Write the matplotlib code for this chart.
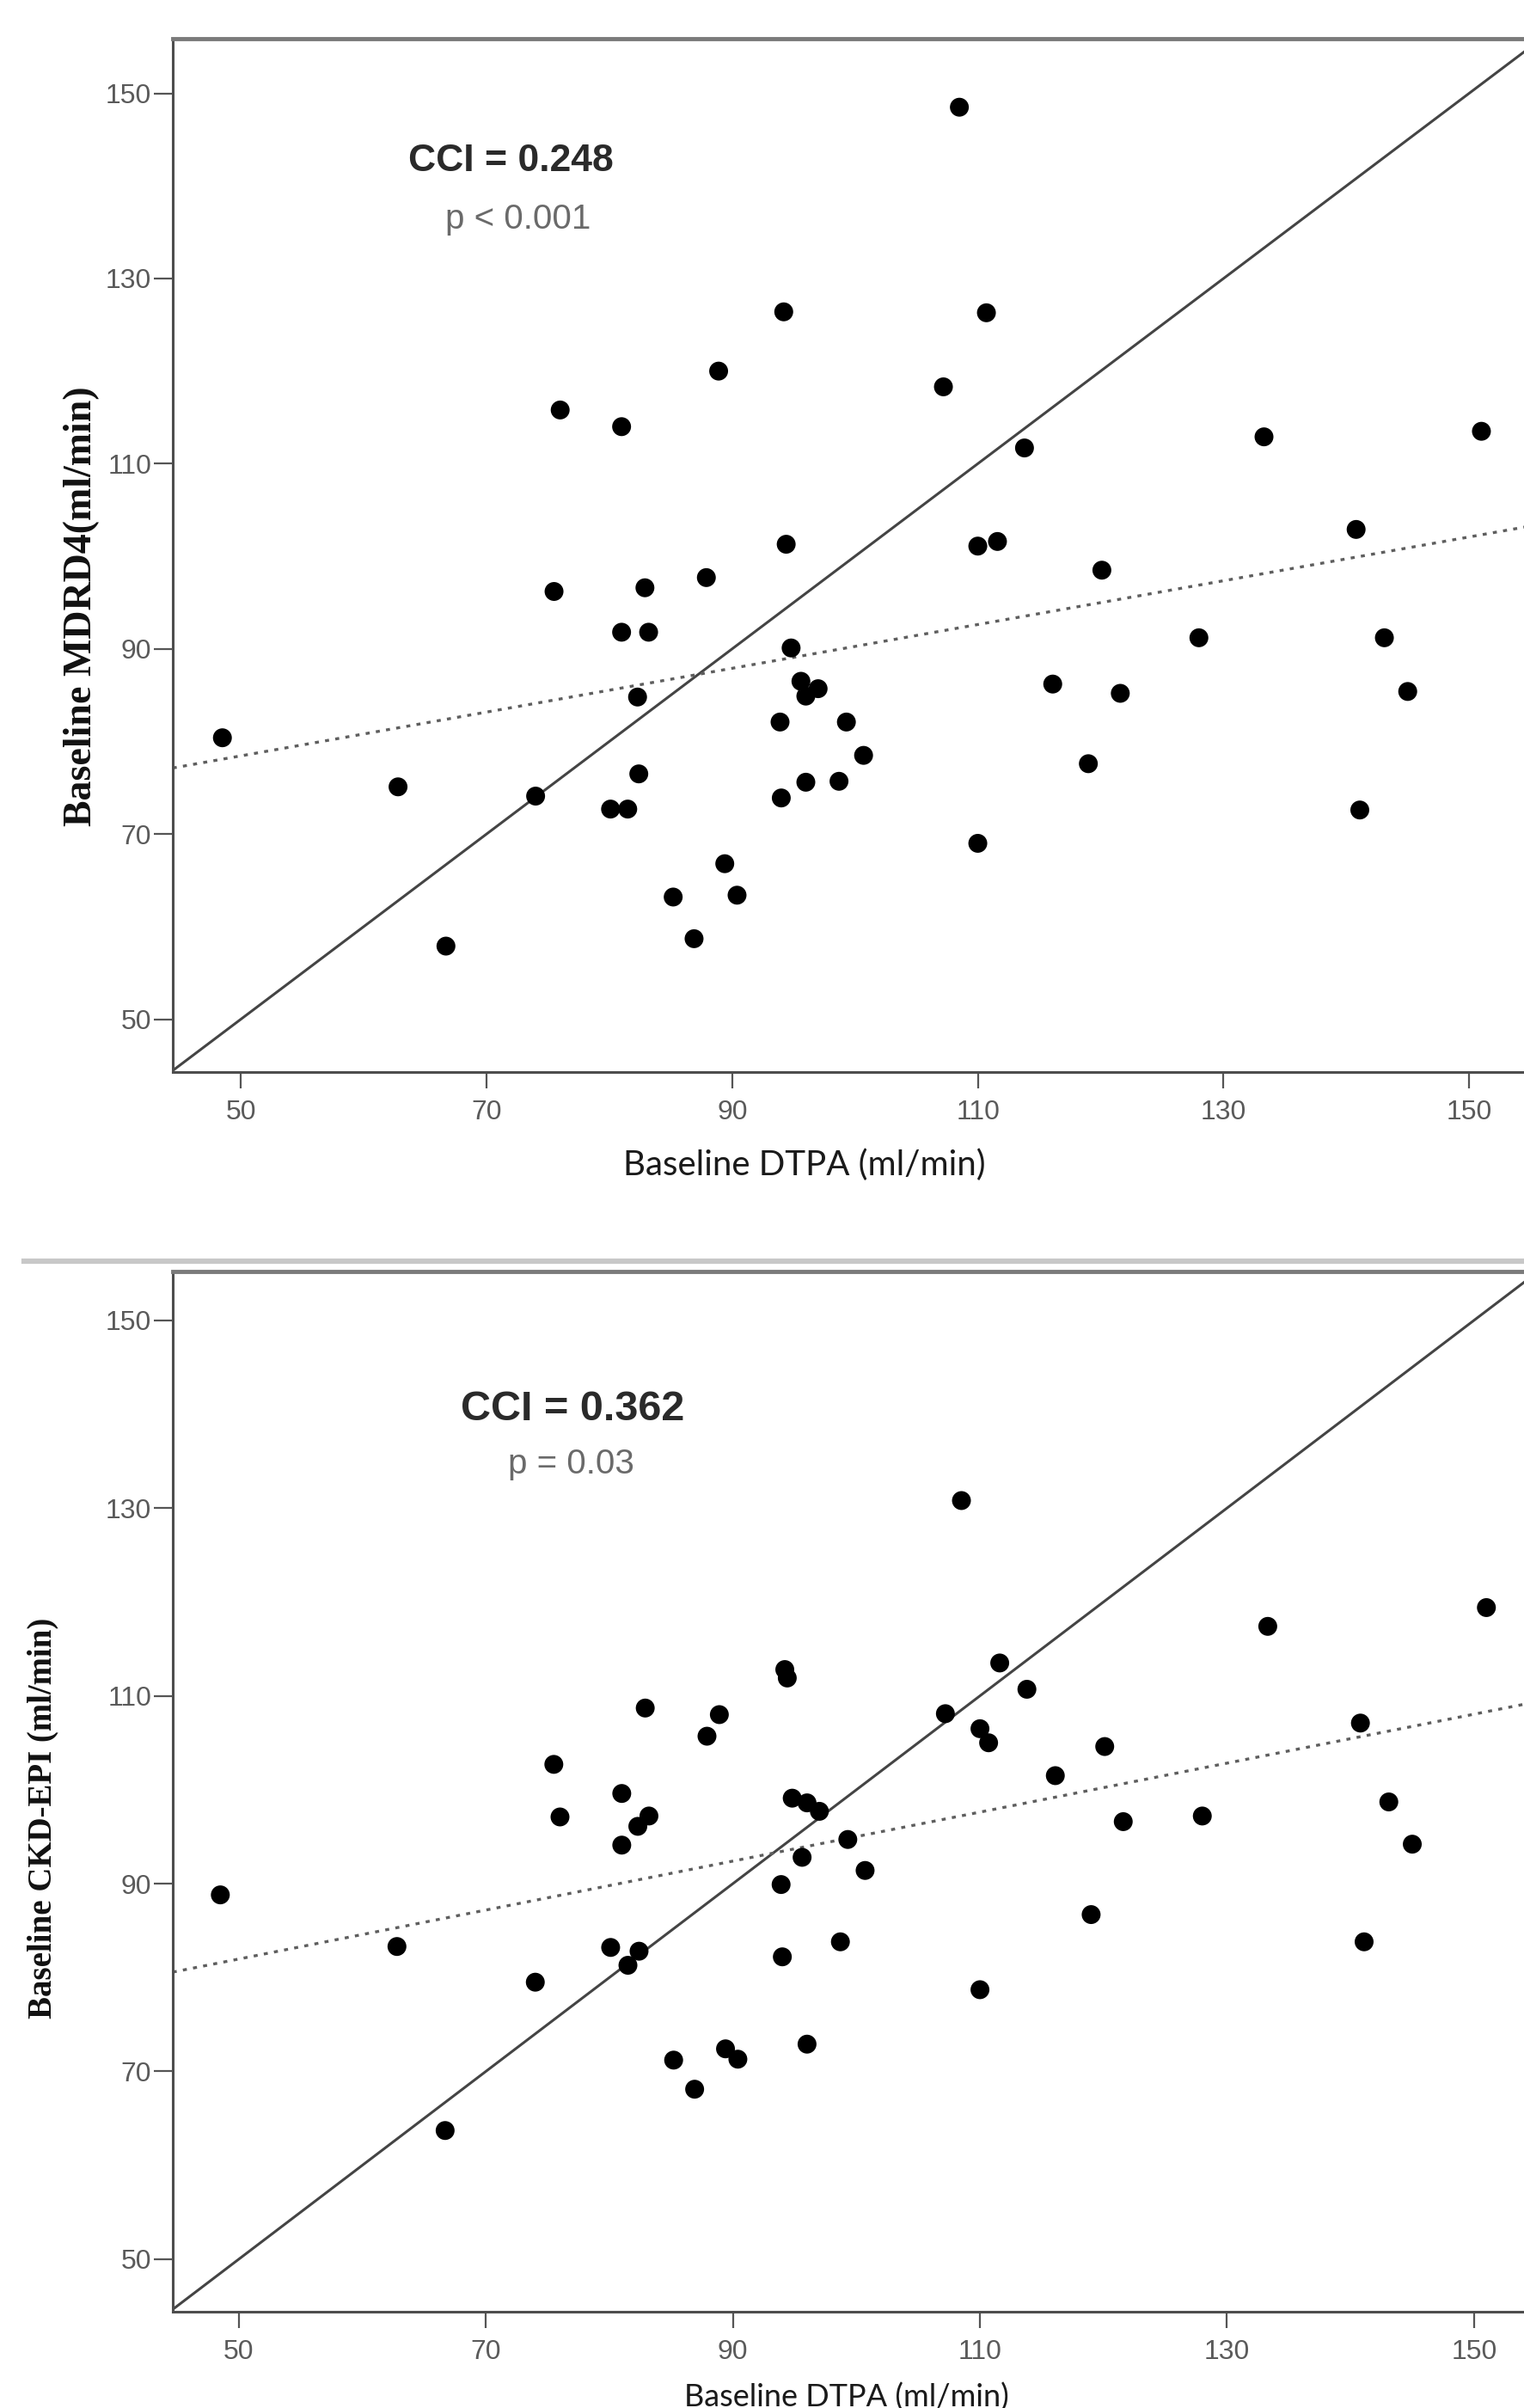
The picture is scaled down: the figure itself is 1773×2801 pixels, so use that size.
import numpy as np
import matplotlib
matplotlib.use("Agg")
import matplotlib.pyplot as plt
from matplotlib import font_manager as fm

# Baseline DTPA GFR (ml/min), shared by both panels
dtpa = [48.5, 62.8, 66.7, 74.0, 75.5, 76.0, 80.1, 81.0, 81.0, 81.5,
        82.3, 82.4, 82.9, 83.2, 85.2, 86.9, 87.9, 88.9, 89.4, 90.4,
        94.0, 93.9, 94.2, 94.4, 94.8, 95.6, 96.0, 96.0, 97.0, 98.7,
        99.3, 100.7, 107.2, 108.5, 110.0, 110.0, 110.7, 111.6, 113.8, 116.1,
        119.0, 120.1, 121.6, 128.0, 133.3, 140.8, 141.1, 143.1, 145.0, 151.0]

# Baseline MDRD4 estimate (ml/min)
mdrd4 = [80.4, 75.1, 57.9, 74.1, 96.2, 115.8, 72.7, 91.8, 114.0, 72.7,
         84.8, 76.5, 96.6, 91.8, 63.2, 58.7, 97.7, 120.0, 66.8, 63.4,
         73.9, 82.1, 126.4, 101.3, 90.1, 86.5, 84.9, 75.6, 85.7, 75.7,
         82.1, 78.5, 118.3, 148.5, 69.0, 101.1, 126.3, 101.6, 111.7, 86.2,
         77.6, 98.5, 85.2, 91.2, 112.9, 102.9, 72.6, 91.2, 85.4, 113.5]

# Baseline CKD-EPI estimate (ml/min)
ckd_epi = [88.8, 83.3, 63.7, 79.5, 102.7, 97.1, 83.2, 94.1, 99.6, 81.3,
           96.1, 82.8, 108.7, 97.2, 71.2, 68.1, 105.7, 108.0, 72.4, 71.3,
           82.2, 89.9, 112.8, 111.9, 99.1, 92.8, 98.6, 72.9, 97.7, 83.8,
           94.7, 91.4, 108.1, 130.8, 78.7, 106.5, 105.0, 113.5, 110.7, 101.5,
           86.7, 104.6, 96.6, 97.2, 117.4, 107.1, 83.8, 98.7, 94.2, 119.4]

tick_values = [50, 70, 90, 110, 130, 150]
panels = [
    {"y": mdrd4, "ylabel": "Baseline MDRD4(ml/min)", "cci": "CCI = 0.248", "p": "p < 0.001"},
    {"y": ckd_epi, "ylabel": "Baseline CKD-EPI (ml/min)", "cci": "CCI = 0.362", "p": "p = 0.03"},
]


def pick_font(*names):
    """Return the first installed family out of names"""
    avail = {f.name for f in fm.fontManager.ttflist}
    for n in names:
        if n in avail:
            return n
    return "DejaVu Sans"


tick_font = pick_font("Liberation Sans Narrow", "Liberation Sans")
ann_font = pick_font("Liberation Sans Narrow", "Liberation Sans")
xlab_font = pick_font("Lato", "Open Sans", "DejaVu Sans")
ylab_font = pick_font("Liberation Serif", "DejaVu Serif")

W, H = 1773, 2801
fig = plt.figure(figsize=(W / 100, H / 100), dpi=100)

# axes boxes in pixels: left, top, bottom, x/y limits
boxes = [
    {"left": 201, "top": 45, "bottom": 1247, "xlim": (44.46, 155.9), "ylim": (44.3, 155.9)},
    {"left": 201, "top": 1479, "bottom": 2689, "xlim": (44.65, 155.5), "ylim": (44.4, 155.2)},
]
px_per_x = [14.29, 14.37]

# text placement (figure pixels / data units)
ylabel_pos = [(95, 705, 33), (50, 2115, 28)]
xlabel_pos = [(936, 1367, 29), (985, 2800, 26)]
cci_pos = [(72.0, 141.6, 32), (77.0, 139.4, 35)]
p_pos = [(72.6, 135.4, 29), (76.9, 133.7, 29)]

for i, (panel, box) in enumerate(zip(panels, boxes)):
    x0, x1 = box["xlim"]
    width_px = (x1 - x0) * px_per_x[i]
    ax = fig.add_axes([box["left"] / W, 1 - box["bottom"] / H,
                       width_px / W, (box["bottom"] - box["top"]) / H])
    ax.set_xlim(*box["xlim"])
    ax.set_ylim(*box["ylim"])

    x = np.array(dtpa)
    y = np.array(panel["y"])

    # line of identity
    lo, hi = min(x0, box["ylim"][0]), max(x1, box["ylim"][1])
    ax.plot([lo, hi], [lo, hi], color="#444444", lw=2.2, zorder=2)

    # least squares fit
    slope, intercept = np.polyfit(x, y, 1)
    xs = np.array([x0, x1])
    ax.plot(xs, intercept + slope * xs, color="#5e5e5e", lw=2.4,
            linestyle=(0, (1.4, 2.2)), zorder=2)

    ax.scatter(x, y, s=250, color="black", edgecolors="none", zorder=3)

    for side in ["left", "bottom", "top", "right"]:
        ax.spines[side].set_color("#4d4d4d")
        ax.spines[side].set_linewidth(2.2)
    ax.spines["top"].set_color("#7a7a7a")
    ax.spines["top"].set_linewidth(3.5)

    ax.set_xticks(tick_values)
    ax.set_yticks(tick_values)
    ax.set_xticklabels([str(v) for v in tick_values])
    ax.set_yticklabels([str(v) for v in tick_values])
    ax.tick_params(axis="x", direction="out", length=14, width=1.6, color="#555555",
                   pad=9, labelsize=23, labelcolor="#5a5a5a")
    ax.tick_params(axis="y", direction="out", length=16, width=1.6, color="#555555",
                   pad=2, labelsize=23, labelcolor="#5a5a5a")
    for lbl in ax.get_xticklabels() + ax.get_yticklabels():
        lbl.set_family(tick_font)

    cx, cy, cs = cci_pos[i]
    ax.text(cx, cy, panel["cci"], ha="center", va="baseline", fontsize=cs,
            fontweight="bold", color="#2a2a2a", family=ann_font)
    px_, py_, ps = p_pos[i]
    ax.text(px_, py_, panel["p"], ha="center", va="baseline", fontsize=ps,
            color="#6a6a6a", family=ann_font)

    lx, ly, ls = ylabel_pos[i]
    fig.text(lx / W, 1 - ly / H, panel["ylabel"], rotation=90, ha="center", va="center",
             fontsize=ls, fontweight="bold", family=ylab_font, color="#111111")
    bx, by, bs = xlabel_pos[i]
    fig.text(bx / W, 1 - by / H, "Baseline DTPA (ml/min)", ha="center", va="baseline",
             fontsize=bs, family=xlab_font, color="#1a1a1a")

# grey separator between the two panels
fig.add_artist(plt.Line2D([28 / W, 1.0], [1 - 1467 / H, 1 - 1467 / H],
                          color="#c8c8c8", lw=4.5, transform=fig.transFigure))

fig.savefig("out.png", dpi=100)
